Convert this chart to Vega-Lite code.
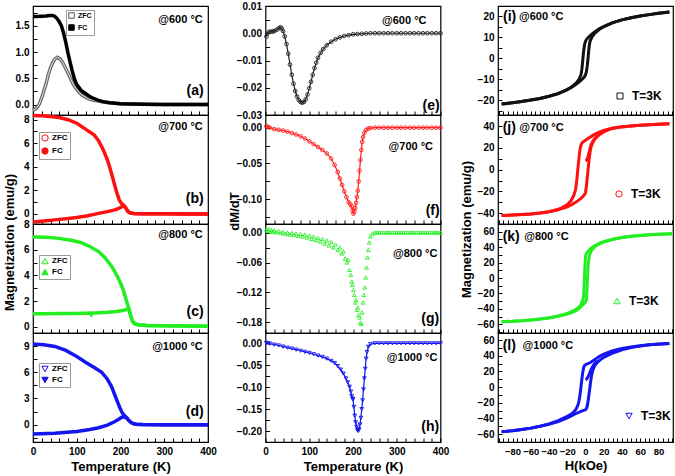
{
"$schema": "https://vega.github.io/schema/vega-lite/v6.json",
"padding": {"left": 2, "top": 0, "right": 0, "bottom": 0},
"background": "white",
"datasets": {
"mt": [
{"p":"a","s":"FC","T":0,"M":1.68},{"p":"a","s":"FC","T":10,"M":1.68},{"p":"a","s":"FC","T":20,"M":1.685},{"p":"a","s":"FC","T":30,"M":1.69},{"p":"a","s":"FC","T":38,"M":1.7},{"p":"a","s":"FC","T":45,"M":1.7},{"p":"a","s":"FC","T":50,"M":1.68},{"p":"a","s":"FC","T":55,"M":1.64},{"p":"a","s":"FC","T":60,"M":1.58},{"p":"a","s":"FC","T":65,"M":1.5},{"p":"a","s":"FC","T":70,"M":1.36},{"p":"a","s":"FC","T":75,"M":1.18},{"p":"a","s":"FC","T":80,"M":0.98},{"p":"a","s":"FC","T":85,"M":0.8},{"p":"a","s":"FC","T":90,"M":0.63},{"p":"a","s":"FC","T":95,"M":0.48},{"p":"a","s":"FC","T":100,"M":0.38},{"p":"a","s":"FC","T":110,"M":0.27},{"p":"a","s":"FC","T":120,"M":0.21},{"p":"a","s":"FC","T":130,"M":0.15},{"p":"a","s":"FC","T":140,"M":0.11},{"p":"a","s":"FC","T":150,"M":0.08},{"p":"a","s":"FC","T":160,"M":0.055},{"p":"a","s":"FC","T":175,"M":0.035},{"p":"a","s":"FC","T":200,"M":0.015},{"p":"a","s":"FC","T":250,"M":0.004},{"p":"a","s":"FC","T":300,"M":0.001},{"p":"a","s":"FC","T":350,"M":0},{"p":"a","s":"FC","T":400,"M":0},
{"p":"a","s":"ZFC","T":0,"M":-0.11},{"p":"a","s":"ZFC","T":5,"M":-0.09},{"p":"a","s":"ZFC","T":10,"M":-0.05},{"p":"a","s":"ZFC","T":14,"M":0.0},{"p":"a","s":"ZFC","T":18,"M":0.09},{"p":"a","s":"ZFC","T":22,"M":0.18},{"p":"a","s":"ZFC","T":25,"M":0.27},{"p":"a","s":"ZFC","T":30,"M":0.4},{"p":"a","s":"ZFC","T":35,"M":0.57},{"p":"a","s":"ZFC","T":40,"M":0.7},{"p":"a","s":"ZFC","T":45,"M":0.8},{"p":"a","s":"ZFC","T":50,"M":0.87},{"p":"a","s":"ZFC","T":56,"M":0.9},{"p":"a","s":"ZFC","T":62,"M":0.87},{"p":"a","s":"ZFC","T":68,"M":0.8},{"p":"a","s":"ZFC","T":74,"M":0.7},{"p":"a","s":"ZFC","T":80,"M":0.6},{"p":"a","s":"ZFC","T":86,"M":0.49},{"p":"a","s":"ZFC","T":92,"M":0.39},{"p":"a","s":"ZFC","T":98,"M":0.31},{"p":"a","s":"ZFC","T":105,"M":0.24},{"p":"a","s":"ZFC","T":112,"M":0.18},{"p":"a","s":"ZFC","T":120,"M":0.14},{"p":"a","s":"ZFC","T":130,"M":0.1},{"p":"a","s":"ZFC","T":140,"M":0.08},{"p":"a","s":"ZFC","T":150,"M":0.065},{"p":"a","s":"ZFC","T":160,"M":0.05},{"p":"a","s":"ZFC","T":175,"M":0.033},{"p":"a","s":"ZFC","T":200,"M":0.015},{"p":"a","s":"ZFC","T":250,"M":0.004},{"p":"a","s":"ZFC","T":300,"M":0.001},{"p":"a","s":"ZFC","T":350,"M":0},{"p":"a","s":"ZFC","T":400,"M":0},
{"p":"b","s":"FC","T":0,"M":8.35},{"p":"b","s":"FC","T":20,"M":8.33},{"p":"b","s":"FC","T":40,"M":8.28},{"p":"b","s":"FC","T":60,"M":8.18},{"p":"b","s":"FC","T":80,"M":8.0},{"p":"b","s":"FC","T":100,"M":7.7},{"p":"b","s":"FC","T":120,"M":7.2},{"p":"b","s":"FC","T":140,"M":6.7},{"p":"b","s":"FC","T":150,"M":6.2},{"p":"b","s":"FC","T":160,"M":5.5},{"p":"b","s":"FC","T":170,"M":4.6},{"p":"b","s":"FC","T":175,"M":4.0},{"p":"b","s":"FC","T":182,"M":3.1},{"p":"b","s":"FC","T":190,"M":2.0},{"p":"b","s":"FC","T":197,"M":1.2},{"p":"b","s":"FC","T":203,"M":0.85},{"p":"b","s":"FC","T":208,"M":0.72},{"p":"b","s":"FC","T":212,"M":0.5},{"p":"b","s":"FC","T":216,"M":0.25},{"p":"b","s":"FC","T":220,"M":0.12},{"p":"b","s":"FC","T":230,"M":0.05},{"p":"b","s":"FC","T":250,"M":0.02},{"p":"b","s":"FC","T":300,"M":0.01},{"p":"b","s":"FC","T":350,"M":0},{"p":"b","s":"FC","T":400,"M":0},
{"p":"b","s":"ZFC","T":0,"M":-0.68},{"p":"b","s":"ZFC","T":25,"M":-0.6},{"p":"b","s":"ZFC","T":50,"M":-0.5},{"p":"b","s":"ZFC","T":75,"M":-0.4},{"p":"b","s":"ZFC","T":100,"M":-0.3},{"p":"b","s":"ZFC","T":125,"M":-0.15},{"p":"b","s":"ZFC","T":150,"M":0.05},{"p":"b","s":"ZFC","T":170,"M":0.2},{"p":"b","s":"ZFC","T":185,"M":0.33},{"p":"b","s":"ZFC","T":195,"M":0.45},{"p":"b","s":"ZFC","T":203,"M":0.62},{"p":"b","s":"ZFC","T":207,"M":0.72},{"p":"b","s":"ZFC","T":210,"M":0.62},{"p":"b","s":"ZFC","T":214,"M":0.4},{"p":"b","s":"ZFC","T":218,"M":0.2},{"p":"b","s":"ZFC","T":222,"M":0.1},{"p":"b","s":"ZFC","T":230,"M":0.05},{"p":"b","s":"ZFC","T":250,"M":0.02},{"p":"b","s":"ZFC","T":300,"M":0.01},{"p":"b","s":"ZFC","T":350,"M":0},{"p":"b","s":"ZFC","T":400,"M":0},
{"p":"c","s":"FC","T":0,"M":6.98},{"p":"c","s":"FC","T":30,"M":6.96},{"p":"c","s":"FC","T":60,"M":6.88},{"p":"c","s":"FC","T":90,"M":6.72},{"p":"c","s":"FC","T":110,"M":6.55},{"p":"c","s":"FC","T":130,"M":6.25},{"p":"c","s":"FC","T":150,"M":5.85},{"p":"c","s":"FC","T":165,"M":5.35},{"p":"c","s":"FC","T":180,"M":4.7},{"p":"c","s":"FC","T":190,"M":4.1},{"p":"c","s":"FC","T":200,"M":3.4},{"p":"c","s":"FC","T":207,"M":2.8},{"p":"c","s":"FC","T":212,"M":2.2},{"p":"c","s":"FC","T":216,"M":1.75},{"p":"c","s":"FC","T":220,"M":1.3},{"p":"c","s":"FC","T":224,"M":0.75},{"p":"c","s":"FC","T":228,"M":0.4},{"p":"c","s":"FC","T":233,"M":0.22},{"p":"c","s":"FC","T":240,"M":0.15},{"p":"c","s":"FC","T":260,"M":0.1},{"p":"c","s":"FC","T":300,"M":0.08},{"p":"c","s":"FC","T":350,"M":0.05},{"p":"c","s":"FC","T":400,"M":0.03},
{"p":"c","s":"ZFC","T":0,"M":1.0},{"p":"c","s":"ZFC","T":30,"M":1.0},{"p":"c","s":"ZFC","T":60,"M":1.02},{"p":"c","s":"ZFC","T":90,"M":1.03},{"p":"c","s":"ZFC","T":120,"M":1.05},{"p":"c","s":"ZFC","T":131,"M":1.06},{"p":"c","s":"ZFC","T":133,"M":0.95},{"p":"c","s":"ZFC","T":135,"M":1.06},{"p":"c","s":"ZFC","T":150,"M":1.08},{"p":"c","s":"ZFC","T":170,"M":1.12},{"p":"c","s":"ZFC","T":190,"M":1.18},{"p":"c","s":"ZFC","T":205,"M":1.26},{"p":"c","s":"ZFC","T":212,"M":1.32},{"p":"c","s":"ZFC","T":217,"M":1.38},{"p":"c","s":"ZFC","T":220,"M":1.3},{"p":"c","s":"ZFC","T":224,"M":0.75},{"p":"c","s":"ZFC","T":228,"M":0.4},{"p":"c","s":"ZFC","T":233,"M":0.22},{"p":"c","s":"ZFC","T":240,"M":0.15},{"p":"c","s":"ZFC","T":260,"M":0.1},{"p":"c","s":"ZFC","T":300,"M":0.08},{"p":"c","s":"ZFC","T":350,"M":0.05},{"p":"c","s":"ZFC","T":400,"M":0.03},
{"p":"d","s":"FC","T":0,"M":9.22},{"p":"d","s":"FC","T":25,"M":9.15},{"p":"d","s":"FC","T":50,"M":8.95},{"p":"d","s":"FC","T":75,"M":8.5},{"p":"d","s":"FC","T":100,"M":7.8},{"p":"d","s":"FC","T":120,"M":7.15},{"p":"d","s":"FC","T":140,"M":6.55},{"p":"d","s":"FC","T":157,"M":6.0},{"p":"d","s":"FC","T":170,"M":5.2},{"p":"d","s":"FC","T":180,"M":4.3},{"p":"d","s":"FC","T":190,"M":3.0},{"p":"d","s":"FC","T":198,"M":2.0},{"p":"d","s":"FC","T":204,"M":1.35},{"p":"d","s":"FC","T":209,"M":1.05},{"p":"d","s":"FC","T":214,"M":0.8},{"p":"d","s":"FC","T":218,"M":0.55},{"p":"d","s":"FC","T":222,"M":0.35},{"p":"d","s":"FC","T":228,"M":0.15},{"p":"d","s":"FC","T":235,"M":0.05},{"p":"d","s":"FC","T":250,"M":0.01},{"p":"d","s":"FC","T":300,"M":0},{"p":"d","s":"FC","T":350,"M":0},{"p":"d","s":"FC","T":400,"M":0},
{"p":"d","s":"ZFC","T":0,"M":-1.07},{"p":"d","s":"ZFC","T":50,"M":-0.98},{"p":"d","s":"ZFC","T":100,"M":-0.78},{"p":"d","s":"ZFC","T":130,"M":-0.55},{"p":"d","s":"ZFC","T":150,"M":-0.35},{"p":"d","s":"ZFC","T":170,"M":-0.05},{"p":"d","s":"ZFC","T":185,"M":0.3},{"p":"d","s":"ZFC","T":195,"M":0.6},{"p":"d","s":"ZFC","T":203,"M":0.85},{"p":"d","s":"ZFC","T":208,"M":0.9},{"p":"d","s":"ZFC","T":212,"M":0.82},{"p":"d","s":"ZFC","T":215,"M":0.72},{"p":"d","s":"ZFC","T":218,"M":0.55},{"p":"d","s":"ZFC","T":222,"M":0.35},{"p":"d","s":"ZFC","T":228,"M":0.15},{"p":"d","s":"ZFC","T":235,"M":0.05},{"p":"d","s":"ZFC","T":250,"M":0.01},{"p":"d","s":"ZFC","T":300,"M":0},{"p":"d","s":"ZFC","T":350,"M":0},{"p":"d","s":"ZFC","T":400,"M":0}
],
"dm": [
{"p":"e","T":2,"v":-0.0012},{"p":"e","T":4,"v":-0.0002},{"p":"e","T":8,"v":0.0005},{"p":"e","T":12,"v":0.0006},{"p":"e","T":16,"v":0.0006},{"p":"e","T":20,"v":0.0008},{"p":"e","T":25,"v":0.0012},{"p":"e","T":30,"v":0.0018},{"p":"e","T":34,"v":0.0022},{"p":"e","T":37,"v":0.0018},{"p":"e","T":40,"v":0.0008},{"p":"e","T":44,"v":-0.0012},{"p":"e","T":48,"v":-0.004},{"p":"e","T":52,"v":-0.0075},{"p":"e","T":56,"v":-0.0115},{"p":"e","T":60,"v":-0.0152},{"p":"e","T":64,"v":-0.0185},{"p":"e","T":68,"v":-0.0212},{"p":"e","T":72,"v":-0.0232},{"p":"e","T":76,"v":-0.0245},{"p":"e","T":80,"v":-0.0252},{"p":"e","T":84,"v":-0.0255},{"p":"e","T":88,"v":-0.0252},{"p":"e","T":92,"v":-0.0242},{"p":"e","T":96,"v":-0.0225},{"p":"e","T":100,"v":-0.0202},{"p":"e","T":104,"v":-0.0178},{"p":"e","T":108,"v":-0.0152},{"p":"e","T":112,"v":-0.0128},{"p":"e","T":116,"v":-0.0108},{"p":"e","T":120,"v":-0.009},{"p":"e","T":126,"v":-0.0072},{"p":"e","T":132,"v":-0.0058},{"p":"e","T":140,"v":-0.0044},{"p":"e","T":150,"v":-0.0031},{"p":"e","T":160,"v":-0.0022},{"p":"e","T":170,"v":-0.0015},{"p":"e","T":180,"v":-0.001},{"p":"e","T":190,"v":-0.0007},{"p":"e","T":200,"v":-0.0004},{"p":"e","T":210,"v":-0.0003},{"p":"e","T":220,"v":-0.0002},{"p":"e","T":230,"v":-0.0001},{"p":"e","T":240,"v":0},{"p":"e","T":250,"v":0},{"p":"e","T":260,"v":0},{"p":"e","T":270,"v":0},{"p":"e","T":280,"v":0},{"p":"e","T":290,"v":0},{"p":"e","T":300,"v":0},{"p":"e","T":310,"v":0},{"p":"e","T":320,"v":0},{"p":"e","T":330,"v":0},{"p":"e","T":340,"v":0},{"p":"e","T":350,"v":0},{"p":"e","T":360,"v":0},{"p":"e","T":370,"v":0},{"p":"e","T":380,"v":0},{"p":"e","T":390,"v":0},{"p":"e","T":400,"v":0},
{"p":"f","T":2,"v":0.002},{"p":"f","T":6,"v":0.001},{"p":"f","T":10,"v":0.0},{"p":"f","T":20,"v":-0.002},{"p":"f","T":30,"v":-0.003},{"p":"f","T":40,"v":-0.004},{"p":"f","T":50,"v":-0.0055},{"p":"f","T":60,"v":-0.0075},{"p":"f","T":70,"v":-0.0095},{"p":"f","T":80,"v":-0.012},{"p":"f","T":90,"v":-0.015},{"p":"f","T":100,"v":-0.019},{"p":"f","T":110,"v":-0.023},{"p":"f","T":120,"v":-0.027},{"p":"f","T":130,"v":-0.031},{"p":"f","T":140,"v":-0.036},{"p":"f","T":150,"v":-0.043},{"p":"f","T":158,"v":-0.052},{"p":"f","T":165,"v":-0.062},{"p":"f","T":170,"v":-0.071},{"p":"f","T":175,"v":-0.08},{"p":"f","T":180,"v":-0.089},{"p":"f","T":185,"v":-0.097},{"p":"f","T":190,"v":-0.104},{"p":"f","T":194,"v":-0.107},{"p":"f","T":197,"v":-0.11},{"p":"f","T":199,"v":-0.116},{"p":"f","T":201,"v":-0.12},{"p":"f","T":203,"v":-0.117},{"p":"f","T":205,"v":-0.112},{"p":"f","T":207,"v":-0.105},{"p":"f","T":209,"v":-0.097},{"p":"f","T":211,"v":-0.088},{"p":"f","T":213,"v":-0.075},{"p":"f","T":215,"v":-0.06},{"p":"f","T":217,"v":-0.045},{"p":"f","T":219,"v":-0.031},{"p":"f","T":221,"v":-0.02},{"p":"f","T":223,"v":-0.013},{"p":"f","T":226,"v":-0.007},{"p":"f","T":230,"v":-0.003},{"p":"f","T":235,"v":-0.0012},{"p":"f","T":240,"v":-0.0005},{"p":"f","T":250,"v":0},{"p":"f","T":260,"v":0},{"p":"f","T":270,"v":0},{"p":"f","T":280,"v":0},{"p":"f","T":290,"v":0},{"p":"f","T":300,"v":0},{"p":"f","T":310,"v":0},{"p":"f","T":320,"v":0},{"p":"f","T":330,"v":0},{"p":"f","T":340,"v":0},{"p":"f","T":350,"v":0},{"p":"f","T":360,"v":0},{"p":"f","T":370,"v":0},{"p":"f","T":380,"v":0},{"p":"f","T":390,"v":0},{"p":"f","T":400,"v":0},
{"p":"g","T":2,"v":0.006},{"p":"g","T":5,"v":0.003},{"p":"g","T":8,"v":0.007},{"p":"g","T":11,"v":0.002},{"p":"g","T":14,"v":0.005},{"p":"g","T":17,"v":0.001},{"p":"g","T":20,"v":0.004},{"p":"g","T":25,"v":0.0},{"p":"g","T":30,"v":0.003},{"p":"g","T":35,"v":-0.001},{"p":"g","T":40,"v":0.001},{"p":"g","T":45,"v":-0.003},{"p":"g","T":50,"v":0.0},{"p":"g","T":55,"v":-0.004},{"p":"g","T":60,"v":-0.001},{"p":"g","T":65,"v":-0.005},{"p":"g","T":70,"v":-0.002},{"p":"g","T":75,"v":-0.007},{"p":"g","T":80,"v":-0.003},{"p":"g","T":85,"v":-0.008},{"p":"g","T":90,"v":-0.004},{"p":"g","T":95,"v":-0.01},{"p":"g","T":100,"v":-0.006},{"p":"g","T":105,"v":-0.013},{"p":"g","T":110,"v":-0.008},{"p":"g","T":115,"v":-0.015},{"p":"g","T":120,"v":-0.011},{"p":"g","T":125,"v":-0.018},{"p":"g","T":130,"v":-0.013},{"p":"g","T":135,"v":-0.022},{"p":"g","T":140,"v":-0.016},{"p":"g","T":145,"v":-0.026},{"p":"g","T":150,"v":-0.019},{"p":"g","T":155,"v":-0.03},{"p":"g","T":160,"v":-0.024},{"p":"g","T":165,"v":-0.035},{"p":"g","T":170,"v":-0.03},{"p":"g","T":174,"v":-0.042},{"p":"g","T":178,"v":-0.038},{"p":"g","T":182,"v":-0.052},{"p":"g","T":186,"v":-0.06},{"p":"g","T":189,"v":-0.055},{"p":"g","T":192,"v":-0.075},{"p":"g","T":195,"v":-0.085},{"p":"g","T":197,"v":-0.098},{"p":"g","T":199,"v":-0.105},{"p":"g","T":201,"v":-0.115},{"p":"g","T":203,"v":-0.125},{"p":"g","T":205,"v":-0.14},{"p":"g","T":207,"v":-0.135},{"p":"g","T":209,"v":-0.155},{"p":"g","T":211,"v":-0.15},{"p":"g","T":213,"v":-0.165},{"p":"g","T":215,"v":-0.17},{"p":"g","T":217,"v":-0.18},{"p":"g","T":219,"v":-0.183},{"p":"g","T":221,"v":-0.16},{"p":"g","T":223,"v":-0.14},{"p":"g","T":225,"v":-0.125},{"p":"g","T":227,"v":-0.11},{"p":"g","T":229,"v":-0.09},{"p":"g","T":231,"v":-0.07},{"p":"g","T":233,"v":-0.05},{"p":"g","T":235,"v":-0.035},{"p":"g","T":237,"v":-0.02},{"p":"g","T":240,"v":-0.008},{"p":"g","T":245,"v":-0.002},{"p":"g","T":250,"v":0},{"p":"g","T":255,"v":0},{"p":"g","T":260,"v":0},{"p":"g","T":265,"v":0},{"p":"g","T":270,"v":0},{"p":"g","T":275,"v":0},{"p":"g","T":280,"v":0},{"p":"g","T":285,"v":0},{"p":"g","T":290,"v":0},{"p":"g","T":295,"v":0},{"p":"g","T":300,"v":0},{"p":"g","T":305,"v":0},{"p":"g","T":310,"v":0},{"p":"g","T":315,"v":0},{"p":"g","T":320,"v":0},{"p":"g","T":325,"v":0},{"p":"g","T":330,"v":0},{"p":"g","T":335,"v":0},{"p":"g","T":340,"v":0},{"p":"g","T":345,"v":0},{"p":"g","T":350,"v":0},{"p":"g","T":355,"v":0},{"p":"g","T":360,"v":0},{"p":"g","T":365,"v":0},{"p":"g","T":370,"v":0},{"p":"g","T":375,"v":0},{"p":"g","T":380,"v":0},{"p":"g","T":385,"v":0},{"p":"g","T":390,"v":0},{"p":"g","T":395,"v":0},{"p":"g","T":400,"v":0},
{"p":"h","T":2,"v":0.001},{"p":"h","T":6,"v":0.0},{"p":"h","T":10,"v":-0.001},{"p":"h","T":20,"v":-0.003},{"p":"h","T":30,"v":-0.005},{"p":"h","T":40,"v":-0.0075},{"p":"h","T":50,"v":-0.01},{"p":"h","T":60,"v":-0.012},{"p":"h","T":70,"v":-0.0145},{"p":"h","T":80,"v":-0.017},{"p":"h","T":90,"v":-0.0195},{"p":"h","T":100,"v":-0.022},{"p":"h","T":110,"v":-0.025},{"p":"h","T":120,"v":-0.028},{"p":"h","T":130,"v":-0.031},{"p":"h","T":140,"v":-0.035},{"p":"h","T":150,"v":-0.04},{"p":"h","T":158,"v":-0.045},{"p":"h","T":165,"v":-0.052},{"p":"h","T":172,"v":-0.06},{"p":"h","T":178,"v":-0.069},{"p":"h","T":184,"v":-0.08},{"p":"h","T":188,"v":-0.089},{"p":"h","T":192,"v":-0.099},{"p":"h","T":195,"v":-0.11},{"p":"h","T":197,"v":-0.12},{"p":"h","T":199,"v":-0.126},{"p":"h","T":200,"v":-0.128},{"p":"h","T":202,"v":-0.145},{"p":"h","T":204,"v":-0.165},{"p":"h","T":206,"v":-0.18},{"p":"h","T":208,"v":-0.19},{"p":"h","T":210,"v":-0.198},{"p":"h","T":212,"v":-0.2},{"p":"h","T":214,"v":-0.196},{"p":"h","T":216,"v":-0.185},{"p":"h","T":218,"v":-0.17},{"p":"h","T":220,"v":-0.15},{"p":"h","T":222,"v":-0.13},{"p":"h","T":224,"v":-0.105},{"p":"h","T":226,"v":-0.08},{"p":"h","T":228,"v":-0.058},{"p":"h","T":230,"v":-0.035},{"p":"h","T":232,"v":-0.02},{"p":"h","T":235,"v":-0.008},{"p":"h","T":240,"v":-0.002},{"p":"h","T":250,"v":0},{"p":"h","T":260,"v":0},{"p":"h","T":270,"v":0},{"p":"h","T":280,"v":0},{"p":"h","T":290,"v":0},{"p":"h","T":300,"v":0},{"p":"h","T":310,"v":0},{"p":"h","T":320,"v":0},{"p":"h","T":330,"v":0},{"p":"h","T":340,"v":0},{"p":"h","T":350,"v":0},{"p":"h","T":360,"v":0},{"p":"h","T":370,"v":0},{"p":"h","T":380,"v":0},{"p":"h","T":390,"v":0},{"p":"h","T":400,"v":0}
],
"mh": [
{"p":"i","b":"down","H":92,"M":21.9},{"p":"i","b":"down","H":80,"M":21.3},{"p":"i","b":"down","H":70,"M":20.7},{"p":"i","b":"down","H":60,"M":20.0},{"p":"i","b":"down","H":50,"M":19.2},{"p":"i","b":"down","H":40,"M":18.2},{"p":"i","b":"down","H":30,"M":16.9},{"p":"i","b":"down","H":20,"M":15.0},{"p":"i","b":"down","H":15,"M":13.9},{"p":"i","b":"down","H":10,"M":12.4},{"p":"i","b":"down","H":6,"M":11.0},{"p":"i","b":"down","H":3,"M":9.8},{"p":"i","b":"down","H":1,"M":8.8},{"p":"i","b":"down","H":0,"M":8.0},{"p":"i","b":"down","H":-1,"M":6.5},{"p":"i","b":"down","H":-2,"M":3.5},{"p":"i","b":"down","H":-3,"M":-1.0},{"p":"i","b":"down","H":-4,"M":-5.5},{"p":"i","b":"down","H":-5,"M":-8.0},{"p":"i","b":"down","H":-7,"M":-10.0},{"p":"i","b":"down","H":-10,"M":-11.8},{"p":"i","b":"down","H":-15,"M":-13.6},{"p":"i","b":"down","H":-20,"M":-15.0},{"p":"i","b":"down","H":-30,"M":-16.9},{"p":"i","b":"down","H":-40,"M":-18.2},{"p":"i","b":"down","H":-50,"M":-19.2},{"p":"i","b":"down","H":-60,"M":-20.0},{"p":"i","b":"down","H":-70,"M":-20.7},{"p":"i","b":"down","H":-80,"M":-21.3},{"p":"i","b":"down","H":-92,"M":-21.9},
{"p":"i","b":"up","H":-92,"M":-21.9},{"p":"i","b":"up","H":-80,"M":-21.3},{"p":"i","b":"up","H":-70,"M":-20.7},{"p":"i","b":"up","H":-60,"M":-20.0},{"p":"i","b":"up","H":-50,"M":-19.2},{"p":"i","b":"up","H":-40,"M":-18.2},{"p":"i","b":"up","H":-30,"M":-16.9},{"p":"i","b":"up","H":-20,"M":-15.0},{"p":"i","b":"up","H":-15,"M":-13.9},{"p":"i","b":"up","H":-10,"M":-12.4},{"p":"i","b":"up","H":-6,"M":-11.0},{"p":"i","b":"up","H":-3,"M":-9.8},{"p":"i","b":"up","H":-1,"M":-8.8},{"p":"i","b":"up","H":0,"M":-8.0},{"p":"i","b":"up","H":1,"M":-6.5},{"p":"i","b":"up","H":2,"M":-3.5},{"p":"i","b":"up","H":3,"M":1.0},{"p":"i","b":"up","H":4,"M":5.5},{"p":"i","b":"up","H":5,"M":8.0},{"p":"i","b":"up","H":7,"M":10.0},{"p":"i","b":"up","H":10,"M":11.8},{"p":"i","b":"up","H":15,"M":13.6},{"p":"i","b":"up","H":20,"M":15.0},{"p":"i","b":"up","H":30,"M":16.9},{"p":"i","b":"up","H":40,"M":18.2},{"p":"i","b":"up","H":50,"M":19.2},{"p":"i","b":"up","H":60,"M":20.0},{"p":"i","b":"up","H":70,"M":20.7},{"p":"i","b":"up","H":80,"M":21.3},{"p":"i","b":"up","H":92,"M":21.9},
{"p":"j","b":"down","H":92,"M":42.0},{"p":"j","b":"down","H":80,"M":41.6},{"p":"j","b":"down","H":70,"M":41.2},{"p":"j","b":"down","H":60,"M":40.7},{"p":"j","b":"down","H":50,"M":40.1},{"p":"j","b":"down","H":40,"M":39.3},{"p":"j","b":"down","H":30,"M":38.2},{"p":"j","b":"down","H":20,"M":36.0},{"p":"j","b":"down","H":15,"M":34.3},{"p":"j","b":"down","H":10,"M":32.3},{"p":"j","b":"down","H":6,"M":30.3},{"p":"j","b":"down","H":3,"M":28.8},{"p":"j","b":"down","H":0,"M":27.0},{"p":"j","b":"down","H":-2,"M":25.8},{"p":"j","b":"down","H":-4,"M":24.3},{"p":"j","b":"down","H":-5,"M":22.5},{"p":"j","b":"down","H":-6,"M":18.5},{"p":"j","b":"down","H":-7,"M":12.0},{"p":"j","b":"down","H":-8,"M":4.0},{"p":"j","b":"down","H":-9,"M":-5.0},{"p":"j","b":"down","H":-10,"M":-13.0},{"p":"j","b":"down","H":-11,"M":-18.5},{"p":"j","b":"down","H":-13,"M":-24.0},{"p":"j","b":"down","H":-16,"M":-28.5},{"p":"j","b":"down","H":-20,"M":-32.0},{"p":"j","b":"down","H":-25,"M":-34.5},{"p":"j","b":"down","H":-30,"M":-36.3},{"p":"j","b":"down","H":-40,"M":-38.5},{"p":"j","b":"down","H":-50,"M":-39.8},{"p":"j","b":"down","H":-60,"M":-40.7},{"p":"j","b":"down","H":-70,"M":-41.2},{"p":"j","b":"down","H":-80,"M":-41.6},{"p":"j","b":"down","H":-92,"M":-42.0},
{"p":"j","b":"up","H":-92,"M":-42.0},{"p":"j","b":"up","H":-80,"M":-41.6},{"p":"j","b":"up","H":-70,"M":-41.2},{"p":"j","b":"up","H":-60,"M":-40.7},{"p":"j","b":"up","H":-50,"M":-39.8},{"p":"j","b":"up","H":-40,"M":-38.6},{"p":"j","b":"up","H":-30,"M":-36.8},{"p":"j","b":"up","H":-20,"M":-34.0},{"p":"j","b":"up","H":-15,"M":-32.0},{"p":"j","b":"up","H":-10,"M":-29.5},{"p":"j","b":"up","H":-6,"M":-27.0},{"p":"j","b":"up","H":-3,"M":-24.8},{"p":"j","b":"up","H":-1,"M":-22.8},{"p":"j","b":"up","H":0,"M":-21.0},{"p":"j","b":"up","H":1,"M":-15.0},{"p":"j","b":"up","H":2,"M":-7.0},{"p":"j","b":"up","H":3,"M":1.5},{"p":"j","b":"up","H":4,"M":9.5},{"p":"j","b":"up","H":5,"M":16.0},{"p":"j","b":"up","H":6,"M":20.5},{"p":"j","b":"up","H":8,"M":25.0},{"p":"j","b":"up","H":10,"M":27.8},{"p":"j","b":"up","H":13,"M":30.5},{"p":"j","b":"up","H":16,"M":32.5},{"p":"j","b":"up","H":20,"M":34.5},{"p":"j","b":"up","H":25,"M":36.5},{"p":"j","b":"up","H":30,"M":37.8},{"p":"j","b":"up","H":40,"M":39.2},{"p":"j","b":"up","H":50,"M":40.1},{"p":"j","b":"up","H":60,"M":40.7},{"p":"j","b":"up","H":70,"M":41.2},{"p":"j","b":"up","H":80,"M":41.6},{"p":"j","b":"up","H":92,"M":42.0},
{"p":"j","b":"virgin","H":0,"M":8.0},{"p":"j","b":"virgin","H":1,"M":8.5},{"p":"j","b":"virgin","H":2,"M":10.0},{"p":"j","b":"virgin","H":3,"M":12.5},{"p":"j","b":"virgin","H":4,"M":16.0},{"p":"j","b":"virgin","H":5,"M":19.5},{"p":"j","b":"virgin","H":6,"M":22.5},{"p":"j","b":"virgin","H":8,"M":26.0},{"p":"j","b":"virgin","H":10,"M":28.3},{"p":"j","b":"virgin","H":13,"M":30.8},
{"p":"k","b":"down","H":95,"M":57.5},{"p":"k","b":"down","H":90,"M":57.2},{"p":"k","b":"down","H":80,"M":56.7},{"p":"k","b":"down","H":70,"M":56.0},{"p":"k","b":"down","H":60,"M":55.2},{"p":"k","b":"down","H":50,"M":54.2},{"p":"k","b":"down","H":40,"M":52.6},{"p":"k","b":"down","H":30,"M":50.4},{"p":"k","b":"down","H":20,"M":47.2},{"p":"k","b":"down","H":15,"M":45.0},{"p":"k","b":"down","H":10,"M":42.0},{"p":"k","b":"down","H":6,"M":38.5},{"p":"k","b":"down","H":3,"M":35.0},{"p":"k","b":"down","H":1,"M":32.0},{"p":"k","b":"down","H":0,"M":28.0},{"p":"k","b":"down","H":-0.5,"M":18.0},{"p":"k","b":"down","H":-1,"M":5.0},{"p":"k","b":"down","H":-1.5,"M":-10.0},{"p":"k","b":"down","H":-2,"M":-22.0},{"p":"k","b":"down","H":-3,"M":-29.0},{"p":"k","b":"down","H":-5,"M":-34.5},{"p":"k","b":"down","H":-8,"M":-38.5},{"p":"k","b":"down","H":-12,"M":-42.0},{"p":"k","b":"down","H":-16,"M":-44.0},{"p":"k","b":"down","H":-20,"M":-46.0},{"p":"k","b":"down","H":-30,"M":-49.3},{"p":"k","b":"down","H":-40,"M":-51.5},{"p":"k","b":"down","H":-50,"M":-53.2},{"p":"k","b":"down","H":-60,"M":-54.4},{"p":"k","b":"down","H":-70,"M":-55.4},{"p":"k","b":"down","H":-80,"M":-56.1},{"p":"k","b":"down","H":-92,"M":-56.6},
{"p":"k","b":"up","H":-92,"M":-56.6},{"p":"k","b":"up","H":-80,"M":-56.1},{"p":"k","b":"up","H":-70,"M":-55.4},{"p":"k","b":"up","H":-60,"M":-54.4},{"p":"k","b":"up","H":-50,"M":-53.2},{"p":"k","b":"up","H":-40,"M":-51.7},{"p":"k","b":"up","H":-30,"M":-49.7},{"p":"k","b":"up","H":-20,"M":-46.8},{"p":"k","b":"up","H":-15,"M":-44.8},{"p":"k","b":"up","H":-10,"M":-42.0},{"p":"k","b":"up","H":-6,"M":-38.5},{"p":"k","b":"up","H":-3,"M":-35.0},{"p":"k","b":"up","H":-1,"M":-32.5},{"p":"k","b":"up","H":0,"M":-31.0},{"p":"k","b":"up","H":1,"M":-28.0},{"p":"k","b":"up","H":1.5,"M":-18.0},{"p":"k","b":"up","H":2,"M":-5.0},{"p":"k","b":"up","H":2.5,"M":8.0},{"p":"k","b":"up","H":3,"M":18.0},{"p":"k","b":"up","H":4,"M":27.0},{"p":"k","b":"up","H":5,"M":32.0},{"p":"k","b":"up","H":7,"M":36.5},{"p":"k","b":"up","H":10,"M":40.5},{"p":"k","b":"up","H":15,"M":44.3},{"p":"k","b":"up","H":20,"M":46.8},{"p":"k","b":"up","H":30,"M":50.2},{"p":"k","b":"up","H":40,"M":52.6},{"p":"k","b":"up","H":50,"M":54.2},{"p":"k","b":"up","H":60,"M":55.2},{"p":"k","b":"up","H":70,"M":56.0},{"p":"k","b":"up","H":80,"M":56.7},{"p":"k","b":"up","H":95,"M":57.5},
{"p":"l","b":"down","H":92,"M":55.5},{"p":"l","b":"down","H":80,"M":54.7},{"p":"l","b":"down","H":70,"M":53.9},{"p":"l","b":"down","H":60,"M":52.8},{"p":"l","b":"down","H":50,"M":51.3},{"p":"l","b":"down","H":40,"M":49.2},{"p":"l","b":"down","H":30,"M":46.3},{"p":"l","b":"down","H":20,"M":42.0},{"p":"l","b":"down","H":15,"M":39.0},{"p":"l","b":"down","H":10,"M":35.0},{"p":"l","b":"down","H":5,"M":31.0},{"p":"l","b":"down","H":2,"M":29.5},{"p":"l","b":"down","H":0,"M":28.5},{"p":"l","b":"down","H":-1,"M":27.5},{"p":"l","b":"down","H":-2,"M":25.0},{"p":"l","b":"down","H":-3,"M":19.0},{"p":"l","b":"down","H":-4,"M":10.0},{"p":"l","b":"down","H":-5,"M":0.0},{"p":"l","b":"down","H":-6,"M":-10.0},{"p":"l","b":"down","H":-7,"M":-17.0},{"p":"l","b":"down","H":-8,"M":-22.0},{"p":"l","b":"down","H":-10,"M":-27.5},{"p":"l","b":"down","H":-13,"M":-32.0},{"p":"l","b":"down","H":-17,"M":-35.5},{"p":"l","b":"down","H":-20,"M":-37.5},{"p":"l","b":"down","H":-30,"M":-43.0},{"p":"l","b":"down","H":-40,"M":-47.0},{"p":"l","b":"down","H":-50,"M":-50.0},{"p":"l","b":"down","H":-60,"M":-52.5},{"p":"l","b":"down","H":-70,"M":-54.3},{"p":"l","b":"down","H":-80,"M":-55.7},{"p":"l","b":"down","H":-92,"M":-57.0},
{"p":"l","b":"up","H":-92,"M":-57.0},{"p":"l","b":"up","H":-80,"M":-55.7},{"p":"l","b":"up","H":-70,"M":-54.3},{"p":"l","b":"up","H":-60,"M":-52.5},{"p":"l","b":"up","H":-50,"M":-50.2},{"p":"l","b":"up","H":-40,"M":-47.5},{"p":"l","b":"up","H":-30,"M":-44.0},{"p":"l","b":"up","H":-20,"M":-39.5},{"p":"l","b":"up","H":-15,"M":-36.5},{"p":"l","b":"up","H":-10,"M":-33.5},{"p":"l","b":"up","H":-5,"M":-31.0},{"p":"l","b":"up","H":-2,"M":-29.8},{"p":"l","b":"up","H":0,"M":-29.0},{"p":"l","b":"up","H":1,"M":-27.5},{"p":"l","b":"up","H":2,"M":-24.0},{"p":"l","b":"up","H":3,"M":-17.0},{"p":"l","b":"up","H":4,"M":-8.0},{"p":"l","b":"up","H":5,"M":1.0},{"p":"l","b":"up","H":6,"M":10.0},{"p":"l","b":"up","H":7,"M":16.5},{"p":"l","b":"up","H":8,"M":21.5},{"p":"l","b":"up","H":10,"M":27.0},{"p":"l","b":"up","H":13,"M":31.5},{"p":"l","b":"up","H":17,"M":35.5},{"p":"l","b":"up","H":20,"M":38.0},{"p":"l","b":"up","H":30,"M":43.5},{"p":"l","b":"up","H":40,"M":47.5},{"p":"l","b":"up","H":50,"M":50.5},{"p":"l","b":"up","H":60,"M":52.5},{"p":"l","b":"up","H":70,"M":54.0},{"p":"l","b":"up","H":80,"M":54.8},{"p":"l","b":"up","H":92,"M":55.5},
{"p":"l","b":"virgin","H":0,"M":9.5},{"p":"l","b":"virgin","H":1,"M":10.0},{"p":"l","b":"virgin","H":2,"M":11.5},{"p":"l","b":"virgin","H":3,"M":13.5},{"p":"l","b":"virgin","H":4,"M":16.0},{"p":"l","b":"virgin","H":5,"M":19.0},{"p":"l","b":"virgin","H":6,"M":22.0},{"p":"l","b":"virgin","H":8,"M":26.5},{"p":"l","b":"virgin","H":10,"M":30.0},{"p":"l","b":"virgin","H":13,"M":33.5}
]
},
"columns": 3,
"spacing": {"row": 0, "column": 57.5},
"bounds": "flush",
"concat": [
{"width":175,"height":109,"layer":[
 {"data":{"name":"mt"},"transform":[{"filter":"datum.p === 'a' && datum.s === 'ZFC'"}],"mark":{"type":"line","color":"#6a6a6a","strokeWidth":3.5},
  "encoding":{"x":{"field":"T","type":"quantitative","scale":{"domain":[0,400],"nice":false,"zero":false},"axis":{"values":[0,20,40,60,80,100,120,140,160,180,200,220,240,260,280,300,320,340,360,380,400],"tickCount":100,"labels":false,"title":null,"labelOverlap":false,"labelFlush":false}},
   "y":{"field":"M","type":"quantitative","scale":{"domain":[-0.2,1.88],"nice":false,"zero":false},"axis":{"values":[0,0.25,0.5,0.75,1,1.25,1.5,1.75],"tickCount":100,"labelExpr":"round(datum.value*4) % 2 === 0 ? format(datum.value, '.1f') : ''","title":null,"labelOverlap":false,"labelFlush":false}}}},
 {"data":{"name":"mt"},"transform":[{"filter":"datum.p === 'a' && datum.s === 'ZFC'"}],"mark":{"type":"line","color":"#e8e8e8","strokeWidth":1},"encoding":{"x":{"field":"T","type":"quantitative"},"y":{"field":"M","type":"quantitative"}}},
 {"data":{"name":"mt"},"transform":[{"filter":"datum.p === 'a' && datum.s === 'FC'"}],"mark":{"type":"line","color":"#000000","strokeWidth":3.5},"encoding":{"x":{"field":"T","type":"quantitative"},"y":{"field":"M","type":"quantitative"}}},
 {"data":{"name":"mt"},"transform":[{"filter":"datum.p === 'a' && datum.T < 0"}],"mark":{"type":"point","filled":true,"strokeWidth":1,"opacity":1},
  "encoding":{"x":{"field":"T","type":"quantitative"},"y":{"field":"M","type":"quantitative"},
   "shape":{"field":"s","type":"nominal","scale":{"domain":["ZFC","FC"],"range":["square","square"]},"legend":{"orient":"none","legendX":33,"legendY":4,"title":null,"padding":2,"strokeColor":"#999999","fillColor":"#ffffff","symbolSize":30,"labelFontSize":7,"rowPadding":1,"labelOffset":3}},
   "fill":{"field":"s","type":"nominal","scale":{"domain":["ZFC","FC"],"range":["#ffffff","#000000"]},"legend":{"orient":"none","legendX":33,"legendY":4,"title":null,"padding":2,"strokeColor":"#999999","fillColor":"#ffffff","symbolSize":30,"labelFontSize":7,"rowPadding":1,"labelOffset":3}},
   "stroke":{"field":"s","type":"nominal","scale":{"domain":["ZFC","FC"],"range":["#555555","#000000"]},"legend":{"orient":"none","legendX":33,"legendY":4,"title":null,"padding":2,"strokeColor":"#999999","fillColor":"#ffffff","symbolSize":30,"labelFontSize":7,"rowPadding":1,"labelOffset":3}}}},
 {"data":{"values":[{"t":"@600 °C"}]},"mark":{"type":"text","align":"right","baseline":"middle","font":"Liberation Sans","fontWeight":"bold","fontSize":11,"color":"#000"},"encoding":{"x":{"datum":388},"y":{"datum":1.61},"text":{"field":"t"}}},
 {"data":{"values":[{"t":"(a)"}]},"mark":{"type":"text","align":"right","baseline":"middle","font":"Liberation Sans","fontWeight":"bold","fontSize":14,"color":"#000"},"encoding":{"x":{"datum":390},"y":{"datum":0.258},"text":{"field":"t"}}}
]},
{"width":175,"height":109,"layer":[
 {"data":{"name":"dm"},"transform":[{"filter":"datum.p === 'e'"}],"mark":{"type":"line","color":"#222222","strokeWidth":1.2},
  "encoding":{"x":{"field":"T","type":"quantitative","scale":{"domain":[0,400],"nice":false,"zero":false},"axis":{"values":[0,20,40,60,80,100,120,140,160,180,200,220,240,260,280,300,320,340,360,380,400],"tickCount":100,"labels":false,"title":null,"labelOverlap":false,"labelFlush":false}},
   "y":{"field":"v","type":"quantitative","scale":{"domain":[-0.03,0.01],"nice":false,"zero":false},"axis":{"values":[-0.03,-0.025,-0.02,-0.015,-0.01,-0.005,0,0.005,0.01],"tickCount":100,"labelExpr":"round(datum.value*1000) % 10 === 0 ? format(datum.value, '.2f') : ''","title":null,"labelOverlap":false,"labelFlush":false}}}},
 {"data":{"name":"dm"},"transform":[{"filter":"datum.p === 'e'"}],"mark":{"type":"point","shape":"circle","filled":false,"size":14,"strokeWidth":0.9,"color":"#222222","opacity":1},"encoding":{"x":{"field":"T","type":"quantitative"},"y":{"field":"v","type":"quantitative"}}},
 {"data":{"values":[{"t":"@600 °C"}]},"mark":{"type":"text","align":"right","baseline":"middle","font":"Liberation Sans","fontWeight":"bold","fontSize":11,"color":"#000"},"encoding":{"x":{"datum":368},"y":{"datum":0.0046},"text":{"field":"t"}}},
 {"data":{"values":[{"t":"(e)"}]},"mark":{"type":"text","align":"right","baseline":"middle","font":"Liberation Sans","fontWeight":"bold","fontSize":14,"color":"#000"},"encoding":{"x":{"datum":398},"y":{"datum":-0.0267},"text":{"field":"t"}}}
]},
{"width":175,"height":109,"layer":[
 {"data":{"name":"mh"},"transform":[{"filter":"datum.p === 'i'"}],"mark":{"type":"line","color":"#111111","strokeWidth":3},
  "encoding":{"x":{"field":"H","type":"quantitative","scale":{"domain":[-96,96],"nice":false,"zero":false},"axis":{"values":[-95,-90,-85,-80,-75,-70,-65,-60,-55,-50,-45,-40,-35,-30,-25,-20,-15,-10,-5,0,5,10,15,20,25,30,35,40,45,50,55,60,65,70,75,80,85,90,95],"tickCount":100,"labels":false,"title":null,"labelOverlap":false,"labelFlush":false}},
   "y":{"field":"M","type":"quantitative","scale":{"domain":[-27.1,24.8],"nice":false,"zero":false},"axis":{"values":[-25,-20,-15,-10,-5,0,5,10,15,20],"tickCount":100,"labelExpr":"datum.value % 10 === 0 ? format(datum.value, 'd') : ''","title":null,"labelOverlap":false,"labelFlush":false}},
   "detail":{"field":"b"},"order":{"value":null}}},
 {"data":{"name":"mh"},"transform":[{"filter":"datum.p === 'i' && datum.H > 1000"}],"mark":{"type":"point","filled":false,"color":"#111111","strokeWidth":1,"opacity":1},
  "encoding":{"x":{"field":"H","type":"quantitative"},"y":{"field":"M","type":"quantitative"},
   "shape":{"datum":"T=3K","type":"nominal","scale":{"domain":["T=3K"],"range":["square"]},"legend":{"orient":"none","legendX":116,"legendY":84,"title":null,"padding":0,"symbolSize":36,"labelFontSize":12,"labelOffset":6}}}},
 {"data":{"values":[{"t":"(i)"}]},"mark":{"type":"text","align":"left","baseline":"middle","font":"Liberation Sans","fontWeight":"bold","fontSize":14,"color":"#000"},"encoding":{"x":{"datum":-90.5},"y":{"datum":19.4},"text":{"field":"t"}}},
 {"data":{"values":[{"t":"@600 °C"}]},"mark":{"type":"text","align":"left","baseline":"middle","font":"Liberation Sans","fontWeight":"bold","fontSize":11,"color":"#000"},"encoding":{"x":{"datum":-73},"y":{"datum":19.4},"text":{"field":"t"}}}
]},
{"width":175,"height":109,"layer":[
 {"data":{"name":"mt"},"transform":[{"filter":"datum.p === 'b'"}],"mark":{"type":"line","color":"#ff1010","strokeWidth":3.5},
  "encoding":{"x":{"field":"T","type":"quantitative","scale":{"domain":[0,400],"nice":false,"zero":false},"axis":{"values":[0,20,40,60,80,100,120,140,160,180,200,220,240,260,280,300,320,340,360,380,400],"tickCount":100,"labels":false,"title":null,"labelOverlap":false,"labelFlush":false}},
   "y":{"field":"M","type":"quantitative","scale":{"domain":[-0.85,8.4],"nice":false,"zero":false},"axis":{"values":[0,1,2,3,4,5,6,7,8],"tickCount":100,"labelExpr":"datum.value % 2 === 0 ? format(datum.value, 'd') : ''","title":"Magnetization (emu/g)","titleX":-24,"titleY":127,"titleAngle":-90,"titleAlign":"center","titleBaseline":"middle","labelOverlap":false,"labelFlush":false}},
   "detail":{"field":"s"}}},
 {"data":{"name":"mt"},"transform":[{"filter":"datum.p === 'b' && datum.T < 0"}],"mark":{"type":"point","filled":true,"strokeWidth":1,"opacity":1},
  "encoding":{"x":{"field":"T","type":"quantitative"},"y":{"field":"M","type":"quantitative"},
   "shape":{"field":"s","type":"nominal","scale":{"domain":["ZFC","FC"],"range":["circle","circle"]},"legend":{"orient":"none","legendX":6,"legendY":17,"title":null,"padding":2,"strokeColor":"#999999","fillColor":"#ffffff","symbolSize":40,"labelFontSize":8,"rowPadding":1,"labelOffset":3}},
   "fill":{"field":"s","type":"nominal","scale":{"domain":["ZFC","FC"],"range":["#ffffff","#ff1010"]},"legend":{"orient":"none","legendX":6,"legendY":17,"title":null,"padding":2,"strokeColor":"#999999","fillColor":"#ffffff","symbolSize":40,"labelFontSize":8,"rowPadding":1,"labelOffset":3}},
   "stroke":{"field":"s","type":"nominal","scale":{"domain":["ZFC","FC"],"range":["#ff1010","#ff1010"]},"legend":{"orient":"none","legendX":6,"legendY":17,"title":null,"padding":2,"strokeColor":"#999999","fillColor":"#ffffff","symbolSize":40,"labelFontSize":8,"rowPadding":1,"labelOffset":3}}}},
 {"data":{"values":[{"t":"@700 °C"}]},"mark":{"type":"text","align":"right","baseline":"middle","font":"Liberation Sans","fontWeight":"bold","fontSize":11,"color":"#000"},"encoding":{"x":{"datum":388},"y":{"datum":7.36},"text":{"field":"t"}}},
 {"data":{"values":[{"t":"(b)"}]},"mark":{"type":"text","align":"right","baseline":"middle","font":"Liberation Sans","fontWeight":"bold","fontSize":14,"color":"#000"},"encoding":{"x":{"datum":390},"y":{"datum":1.3},"text":{"field":"t"}}}
]},
{"width":175,"height":109,"layer":[
 {"data":{"name":"dm"},"transform":[{"filter":"datum.p === 'f'"}],"mark":{"type":"line","color":"#ff2020","strokeWidth":1.2},
  "encoding":{"x":{"field":"T","type":"quantitative","scale":{"domain":[0,400],"nice":false,"zero":false},"axis":{"values":[0,20,40,60,80,100,120,140,160,180,200,220,240,260,280,300,320,340,360,380,400],"tickCount":100,"labels":false,"title":null,"labelOverlap":false,"labelFlush":false}},
   "y":{"field":"v","type":"quantitative","scale":{"domain":[-0.1345,0.0177],"nice":false,"zero":false},"axis":{"values":[-0.125,-0.1,-0.075,-0.05,-0.025,0],"tickCount":100,"labelExpr":"round(datum.value*1000) % 50 === 0 ? format(datum.value, '.2f') : ''","title":"dM/dT","titleX":-31,"titleY":96,"titleAngle":-90,"titleAlign":"center","titleBaseline":"middle","labelOverlap":false,"labelFlush":false}}}},
 {"data":{"name":"dm"},"transform":[{"filter":"datum.p === 'f'"}],"mark":{"type":"point","shape":"circle","filled":false,"size":14,"strokeWidth":0.9,"color":"#ff2020","opacity":1},"encoding":{"x":{"field":"T","type":"quantitative"},"y":{"field":"v","type":"quantitative"}}},
 {"data":{"values":[{"t":"@700 °C"}]},"mark":{"type":"text","align":"right","baseline":"middle","font":"Liberation Sans","fontWeight":"bold","fontSize":11,"color":"#000"},"encoding":{"x":{"datum":383},"y":{"datum":-0.0266},"text":{"field":"t"}}},
 {"data":{"values":[{"t":"(f)"}]},"mark":{"type":"text","align":"right","baseline":"middle","font":"Liberation Sans","fontWeight":"bold","fontSize":14,"color":"#000"},"encoding":{"x":{"datum":398},"y":{"datum":-0.116},"text":{"field":"t"}}}
]},
{"width":175,"height":109,"layer":[
 {"data":{"name":"mh"},"transform":[{"filter":"datum.p === 'j'"}],"mark":{"type":"line","color":"#ff1010","strokeWidth":3},
  "encoding":{"x":{"field":"H","type":"quantitative","scale":{"domain":[-96,96],"nice":false,"zero":false},"axis":{"values":[-95,-90,-85,-80,-75,-70,-65,-60,-55,-50,-45,-40,-35,-30,-25,-20,-15,-10,-5,0,5,10,15,20,25,30,35,40,45,50,55,60,65,70,75,80,85,90,95],"tickCount":100,"labels":false,"title":null,"labelOverlap":false,"labelFlush":false}},
   "y":{"field":"M","type":"quantitative","scale":{"domain":[-49.8,50.1],"nice":false,"zero":false},"axis":{"values":[-40,-30,-20,-10,0,10,20,30,40,50],"tickCount":100,"labelExpr":"datum.value % 20 === 0 ? format(datum.value, 'd') : ''","title":"Magnetization (emu/g)","titleX":-32,"titleY":114,"titleAngle":-90,"titleAlign":"center","titleBaseline":"middle","labelOverlap":false,"labelFlush":false}},
   "detail":{"field":"b"},"order":{"value":null}}},
 {"data":{"name":"mh"},"transform":[{"filter":"datum.p === 'j' && datum.H > 1000"}],"mark":{"type":"point","filled":false,"color":"#ff1010","strokeWidth":1,"opacity":1},
  "encoding":{"x":{"field":"H","type":"quantitative"},"y":{"field":"M","type":"quantitative"},
   "shape":{"datum":"T=3K","type":"nominal","scale":{"domain":["T=3K"],"range":["circle"]},"legend":{"orient":"none","legendX":115,"legendY":73,"title":null,"padding":0,"symbolSize":40,"labelFontSize":12,"labelOffset":6}}}},
 {"data":{"values":[{"t":"(j)"}]},"mark":{"type":"text","align":"left","baseline":"middle","font":"Liberation Sans","fontWeight":"bold","fontSize":14,"color":"#000"},"encoding":{"x":{"datum":-90.9},"y":{"datum":37.9},"text":{"field":"t"}}},
 {"data":{"values":[{"t":"@700 °C"}]},"mark":{"type":"text","align":"left","baseline":"middle","font":"Liberation Sans","fontWeight":"bold","fontSize":11,"color":"#000"},"encoding":{"x":{"datum":-72.7},"y":{"datum":37.9},"text":{"field":"t"}}}
]},
{"width":175,"height":109,"layer":[
 {"data":{"name":"mt"},"transform":[{"filter":"datum.p === 'c'"}],"mark":{"type":"line","color":"#22ee22","strokeWidth":3.5},
  "encoding":{"x":{"field":"T","type":"quantitative","scale":{"domain":[0,400],"nice":false,"zero":false},"axis":{"values":[0,20,40,60,80,100,120,140,160,180,200,220,240,260,280,300,320,340,360,380,400],"tickCount":100,"labels":false,"title":null,"labelOverlap":false,"labelFlush":false}},
   "y":{"field":"M","type":"quantitative","scale":{"domain":[-0.49,8.0],"nice":false,"zero":false},"axis":{"values":[0,1,2,3,4,5,6,7,8],"tickCount":100,"labelExpr":"datum.value % 2 === 0 ? format(datum.value, 'd') : ''","title":null,"labelOverlap":false,"labelFlush":false}},
   "detail":{"field":"s"}}},
 {"data":{"name":"mt"},"transform":[{"filter":"datum.p === 'c' && datum.T < 0"}],"mark":{"type":"point","filled":true,"strokeWidth":1,"opacity":1},
  "encoding":{"x":{"field":"T","type":"quantitative"},"y":{"field":"M","type":"quantitative"},
   "shape":{"field":"s","type":"nominal","scale":{"domain":["ZFC","FC"],"range":["triangle-up","triangle-up"]},"legend":{"orient":"none","legendX":6,"legendY":31,"title":null,"padding":2,"strokeColor":"#999999","fillColor":"#ffffff","symbolSize":40,"labelFontSize":8,"rowPadding":1,"labelOffset":3}},
   "fill":{"field":"s","type":"nominal","scale":{"domain":["ZFC","FC"],"range":["#ffffff","#22ee22"]},"legend":{"orient":"none","legendX":6,"legendY":31,"title":null,"padding":2,"strokeColor":"#999999","fillColor":"#ffffff","symbolSize":40,"labelFontSize":8,"rowPadding":1,"labelOffset":3}},
   "stroke":{"field":"s","type":"nominal","scale":{"domain":["ZFC","FC"],"range":["#22ee22","#22ee22"]},"legend":{"orient":"none","legendX":6,"legendY":31,"title":null,"padding":2,"strokeColor":"#999999","fillColor":"#ffffff","symbolSize":40,"labelFontSize":8,"rowPadding":1,"labelOffset":3}}}},
 {"data":{"values":[{"t":"@800 °C"}]},"mark":{"type":"text","align":"right","baseline":"middle","font":"Liberation Sans","fontWeight":"bold","fontSize":11,"color":"#000"},"encoding":{"x":{"datum":388},"y":{"datum":7.14},"text":{"field":"t"}}},
 {"data":{"values":[{"t":"(c)"}]},"mark":{"type":"text","align":"right","baseline":"middle","font":"Liberation Sans","fontWeight":"bold","fontSize":14,"color":"#000"},"encoding":{"x":{"datum":390},"y":{"datum":1.17},"text":{"field":"t"}}}
]},
{"width":175,"height":109,"layer":[
 {"data":{"name":"dm"},"transform":[{"filter":"datum.p === 'g'"}],"mark":{"type":"point","shape":"triangle-up","filled":false,"size":14,"strokeWidth":0.9,"color":"#22ee22","opacity":1},
  "encoding":{"x":{"field":"T","type":"quantitative","scale":{"domain":[0,400],"nice":false,"zero":false},"axis":{"values":[0,20,40,60,80,100,120,140,160,180,200,220,240,260,280,300,320,340,360,380,400],"tickCount":100,"labels":false,"title":null,"labelOverlap":false,"labelFlush":false}},
   "y":{"field":"v","type":"quantitative","scale":{"domain":[-0.201,0.017],"nice":false,"zero":false},"axis":{"values":[-0.18,-0.15,-0.12,-0.09,-0.06,-0.03,0],"tickCount":100,"labelExpr":"round(datum.value*100) % 6 === 0 ? format(datum.value, '.2f') : ''","title":null,"labelOverlap":false,"labelFlush":false}}}},
 {"data":{"values":[{"t":"@800 °C"}]},"mark":{"type":"text","align":"right","baseline":"middle","font":"Liberation Sans","fontWeight":"bold","fontSize":11,"color":"#000"},"encoding":{"x":{"datum":393},"y":{"datum":-0.043},"text":{"field":"t"}}},
 {"data":{"values":[{"t":"(g)"}]},"mark":{"type":"text","align":"right","baseline":"middle","font":"Liberation Sans","fontWeight":"bold","fontSize":14,"color":"#000"},"encoding":{"x":{"datum":397},"y":{"datum":-0.1736},"text":{"field":"t"}}}
]},
{"width":175,"height":109,"layer":[
 {"data":{"name":"mh"},"transform":[{"filter":"datum.p === 'k'"}],"mark":{"type":"line","color":"#22ee22","strokeWidth":3},
  "encoding":{"x":{"field":"H","type":"quantitative","scale":{"domain":[-96,96],"nice":false,"zero":false},"axis":{"values":[-95,-90,-85,-80,-75,-70,-65,-60,-55,-50,-45,-40,-35,-30,-25,-20,-15,-10,-5,0,5,10,15,20,25,30,35,40,45,50,55,60,65,70,75,80,85,90,95],"tickCount":100,"labels":false,"title":null,"labelOverlap":false,"labelFlush":false}},
   "y":{"field":"M","type":"quantitative","scale":{"domain":[-71.3,70.1],"nice":false,"zero":false},"axis":{"values":[-70,-60,-50,-40,-30,-20,-10,0,10,20,30,40,50,60,70],"tickCount":100,"labelExpr":"datum.value % 20 === 0 ? format(datum.value, 'd') : ''","title":null,"labelOverlap":false,"labelFlush":false}},
   "detail":{"field":"b"},"order":{"value":null}}},
 {"data":{"name":"mh"},"transform":[{"filter":"datum.p === 'k' && datum.H > 1000"}],"mark":{"type":"point","filled":false,"color":"#22ee22","strokeWidth":1,"opacity":1},
  "encoding":{"x":{"field":"H","type":"quantitative"},"y":{"field":"M","type":"quantitative"},
   "shape":{"datum":"T=3K","type":"nominal","scale":{"domain":["T=3K"],"range":["triangle-up"]},"legend":{"orient":"none","legendX":113,"legendY":71,"title":null,"padding":0,"symbolSize":40,"labelFontSize":12,"labelOffset":6}}}},
 {"data":{"values":[{"t":"(k)"}]},"mark":{"type":"text","align":"left","baseline":"middle","font":"Liberation Sans","fontWeight":"bold","fontSize":14,"color":"#000"},"encoding":{"x":{"datum":-90.9},"y":{"datum":53.6},"text":{"field":"t"}}},
 {"data":{"values":[{"t":"@800 °C"}]},"mark":{"type":"text","align":"left","baseline":"middle","font":"Liberation Sans","fontWeight":"bold","fontSize":11,"color":"#000"},"encoding":{"x":{"datum":-67.3},"y":{"datum":53.6},"text":{"field":"t"}}}
]},
{"width":175,"height":109,"layer":[
 {"data":{"name":"mt"},"transform":[{"filter":"datum.p === 'd'"}],"mark":{"type":"line","color":"#1515f0","strokeWidth":3.5},
  "encoding":{"x":{"field":"T","type":"quantitative","scale":{"domain":[0,400],"nice":false,"zero":false},"axis":{"values":[0,20,40,60,80,100,120,140,160,180,200,220,240,260,280,300,320,340,360,380,400],"tickCount":100,"labelExpr":"datum.value % 100 === 0 ? format(datum.value, 'd') : ''","title":"Temperature (K)","labelOverlap":false,"labelFlush":false}},
   "y":{"field":"M","type":"quantitative","scale":{"domain":[-1.98,10.49],"nice":false,"zero":false},"axis":{"values":[-1.5,0,1.5,3,4.5,6,7.5,9],"tickCount":100,"labelExpr":"datum.value % 3 === 0 ? format(datum.value, 'd') : ''","title":null,"labelOverlap":false,"labelFlush":false}},
   "detail":{"field":"s"}}},
 {"data":{"name":"mt"},"transform":[{"filter":"datum.p === 'd' && datum.T < 0"}],"mark":{"type":"point","filled":true,"strokeWidth":1,"opacity":1},
  "encoding":{"x":{"field":"T","type":"quantitative"},"y":{"field":"M","type":"quantitative"},
   "shape":{"field":"s","type":"nominal","scale":{"domain":["ZFC","FC"],"range":["triangle-down","triangle-down"]},"legend":{"orient":"none","legendX":6,"legendY":30,"title":null,"padding":2,"strokeColor":"#999999","fillColor":"#ffffff","symbolSize":40,"labelFontSize":8,"rowPadding":1,"labelOffset":3}},
   "fill":{"field":"s","type":"nominal","scale":{"domain":["ZFC","FC"],"range":["#ffffff","#1515f0"]},"legend":{"orient":"none","legendX":6,"legendY":30,"title":null,"padding":2,"strokeColor":"#999999","fillColor":"#ffffff","symbolSize":40,"labelFontSize":8,"rowPadding":1,"labelOffset":3}},
   "stroke":{"field":"s","type":"nominal","scale":{"domain":["ZFC","FC"],"range":["#1515f0","#1515f0"]},"legend":{"orient":"none","legendX":6,"legendY":30,"title":null,"padding":2,"strokeColor":"#999999","fillColor":"#ffffff","symbolSize":40,"labelFontSize":8,"rowPadding":1,"labelOffset":3}}}},
 {"data":{"values":[{"t":"@1000 °C"}]},"mark":{"type":"text","align":"right","baseline":"middle","font":"Liberation Sans","fontWeight":"bold","fontSize":11,"color":"#000"},"encoding":{"x":{"datum":388},"y":{"datum":8.92},"text":{"field":"t"}}},
 {"data":{"values":[{"t":"(d)"}]},"mark":{"type":"text","align":"right","baseline":"middle","font":"Liberation Sans","fontWeight":"bold","fontSize":14,"color":"#000"},"encoding":{"x":{"datum":390},"y":{"datum":1.49},"text":{"field":"t"}}}
]},
{"width":175,"height":109,"layer":[
 {"data":{"name":"dm"},"transform":[{"filter":"datum.p === 'h'"}],"mark":{"type":"line","color":"#1515f0","strokeWidth":1.2},
  "encoding":{"x":{"field":"T","type":"quantitative","scale":{"domain":[0,400],"nice":false,"zero":false},"axis":{"values":[0,20,40,60,80,100,120,140,160,180,200,220,240,260,280,300,320,340,360,380,400],"tickCount":100,"labelExpr":"datum.value % 100 === 0 ? format(datum.value, 'd') : ''","title":"Temperature (K)","labelOverlap":false,"labelFlush":false}},
   "y":{"field":"v","type":"quantitative","scale":{"domain":[-0.225,0.0235],"nice":false,"zero":false},"axis":{"values":[-0.2,-0.175,-0.15,-0.125,-0.1,-0.075,-0.05,-0.025,0],"tickCount":100,"labelExpr":"round(datum.value*1000) % 50 === 0 ? format(datum.value, '.2f') : ''","title":null,"labelOverlap":false,"labelFlush":false}}}},
 {"data":{"name":"dm"},"transform":[{"filter":"datum.p === 'h'"}],"mark":{"type":"point","shape":"triangle-down","filled":false,"size":14,"strokeWidth":0.9,"color":"#1515f0","opacity":1},"encoding":{"x":{"field":"T","type":"quantitative"},"y":{"field":"v","type":"quantitative"}}},
 {"data":{"values":[{"t":"@1000 °C"}]},"mark":{"type":"text","align":"right","baseline":"middle","font":"Liberation Sans","fontWeight":"bold","fontSize":11,"color":"#000"},"encoding":{"x":{"datum":393},"y":{"datum":-0.0328},"text":{"field":"t"}}},
 {"data":{"values":[{"t":"(h)"}]},"mark":{"type":"text","align":"right","baseline":"middle","font":"Liberation Sans","fontWeight":"bold","fontSize":14,"color":"#000"},"encoding":{"x":{"datum":397},"y":{"datum":-0.19},"text":{"field":"t"}}}
]},
{"width":175,"height":109,"layer":[
 {"data":{"name":"mh"},"transform":[{"filter":"datum.p === 'l'"}],"mark":{"type":"line","color":"#1515f0","strokeWidth":3},
  "encoding":{"x":{"field":"H","type":"quantitative","scale":{"domain":[-96,96],"nice":false,"zero":false},"axis":{"values":[-95,-90,-85,-80,-75,-70,-65,-60,-55,-50,-45,-40,-35,-30,-25,-20,-15,-10,-5,0,5,10,15,20,25,30,35,40,45,50,55,60,65,70,75,80,85,90,95],"tickCount":100,"labelExpr":"datum.value % 20 === 0 ? format(datum.value, 'd') : ''","labelFontSize":9.5,"title":"H(kOe)","labelOverlap":false,"labelFlush":false}},
   "y":{"field":"M","type":"quantitative","scale":{"domain":[-70.2,69],"nice":false,"zero":false},"axis":{"values":[-70,-60,-50,-40,-30,-20,-10,0,10,20,30,40,50,60],"tickCount":100,"labelExpr":"datum.value % 20 === 0 ? format(datum.value, 'd') : ''","title":null,"labelOverlap":false,"labelFlush":false}},
   "detail":{"field":"b"},"order":{"value":null}}},
 {"data":{"name":"mh"},"transform":[{"filter":"datum.p === 'l' && datum.H > 1000"}],"mark":{"type":"point","filled":false,"color":"#1515f0","strokeWidth":1,"opacity":1},
  "encoding":{"x":{"field":"H","type":"quantitative"},"y":{"field":"M","type":"quantitative"},
   "shape":{"datum":"T=3K","type":"nominal","scale":{"domain":["T=3K"],"range":["triangle-down"]},"legend":{"orient":"none","legendX":125,"legendY":77,"title":null,"padding":0,"symbolSize":40,"labelFontSize":12,"labelOffset":6}}}},
 {"data":{"values":[{"t":"(l)"}]},"mark":{"type":"text","align":"left","baseline":"middle","font":"Liberation Sans","fontWeight":"bold","fontSize":14,"color":"#000"},"encoding":{"x":{"datum":-90.9},"y":{"datum":52.4},"text":{"field":"t"}}},
 {"data":{"values":[{"t":"@1000 °C"}]},"mark":{"type":"text","align":"left","baseline":"middle","font":"Liberation Sans","fontWeight":"bold","fontSize":11,"color":"#000"},"encoding":{"x":{"datum":-69},"y":{"datum":52.4},"text":{"field":"t"}}}
]}
],
"resolve":{"scale":{"shape":"independent","fill":"independent","stroke":"independent"},"legend":{"shape":"independent","fill":"independent","stroke":"independent"}},
"config": {
 "font": "Liberation Sans",
 "view": {"stroke": "#000000", "strokeWidth": 1.2},
 "axis": {"domain": false, "grid": false, "ticks": true, "tickSize": -4, "tickColor": "#000000", "tickWidth": 1, "labelFont": "Liberation Sans", "labelFontWeight": "bold", "labelFontSize": 10, "labelColor": "#000000", "labelPadding": 8, "labelFlush": false, "labelOverlap": false, "titleFont": "Liberation Sans", "titleFontWeight": "bold", "titleFontSize": 13, "titleColor": "#000000"},
 "axisX": {"titlePadding": 4},
 "legend": {"labelFont": "Liberation Sans", "labelFontWeight": "bold", "labelColor": "#000000", "symbolStrokeWidth": 1}
}
}
